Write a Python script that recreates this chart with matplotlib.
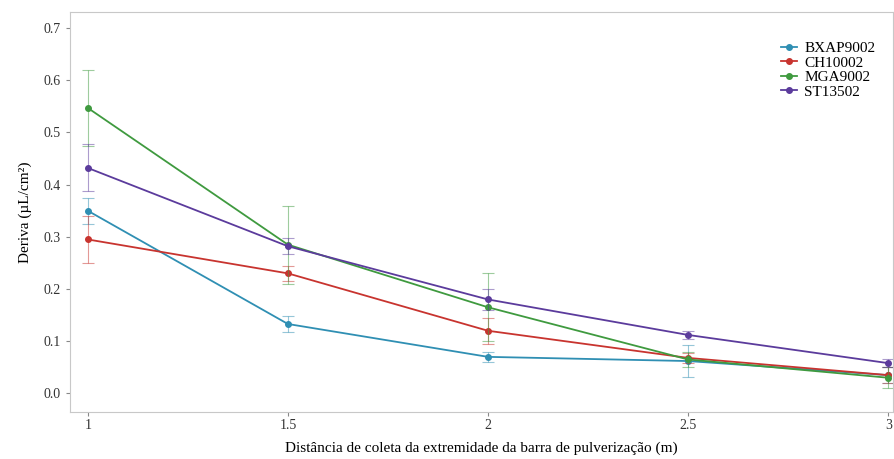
import matplotlib.pyplot as plt

plt.rcParams['font.family'] = ['Liberation Serif', 'DejaVu Serif']

# Data
dist = [1, 1.5, 2, 2.5, 3]
series = ["BXAP9002", "CH10002", "MGA9002", "ST13502"]
bxap = [0.350, 0.133, 0.070, 0.062, 0.035]
ch = [0.295, 0.230, 0.120, 0.068, 0.035]
mga = [0.547, 0.285, 0.165, 0.065, 0.030]
st = [0.432, 0.282, 0.180, 0.112, 0.058]
bxap_err = [0.025, 0.015, 0.010, 0.030, 0.015]
ch_err = [0.045, 0.015, 0.025, 0.010, 0.015]
mga_err = [0.072, 0.075, 0.065, 0.015, 0.020]
st_err = [0.045, 0.015, 0.020, 0.008, 0.008]
colors = ["#2f8fb3", "#c8342f", "#3f9a3f", "#5b3b9c"]

fig = plt.figure(figsize=(8.95, 4.59), dpi=100)
ax = fig.add_axes([0.078, 0.102, 0.92, 0.872])

for name, vals, errs, c in zip(series, [bxap, ch, mga, st],
                               [bxap_err, ch_err, mga_err, st_err], colors):
    ax.errorbar(dist, vals, yerr=errs, fmt='none', ecolor=c, elinewidth=0.8,
                capsize=4, capthick=0.8, alpha=0.5, linestyle=':')
    ax.plot(dist, vals, '-', color=c, lw=1.3, marker='o', ms=4, label=name)

ax.set_xlim(0.955, 3.0125)
ax.set_ylim(-0.036, 0.731)
ax.set_xticks(dist)
ax.set_xticklabels(["1", "1.5", "2", "2.5", "3"])
ax.set_yticks([0, 0.1, 0.2, 0.3, 0.4, 0.5, 0.6, 0.7])
ax.set_yticklabels(["0.0", "0.1", "0.2", "0.3", "0.4", "0.5", "0.6", "0.7"])
ax.tick_params(labelsize=10, length=3, color='#888888', colors='#333333')
ax.tick_params(axis='x', pad=2)
for s in ax.spines.values():
    s.set_color('#c8c8c8')

ax.set_xlabel("Distância de coleta da extremidade da barra de pulverização (m)", fontsize=11, labelpad=7)
ax.set_ylabel("Deriva (µL/cm²)", fontsize=11, labelpad=8)

ax.legend(loc='upper right', bbox_to_anchor=(0.995, 0.96), frameon=False, fontsize=11,
          handlelength=1.0, handletextpad=0.5, labelspacing=0.05)

fig.savefig("out.png", dpi=100)
